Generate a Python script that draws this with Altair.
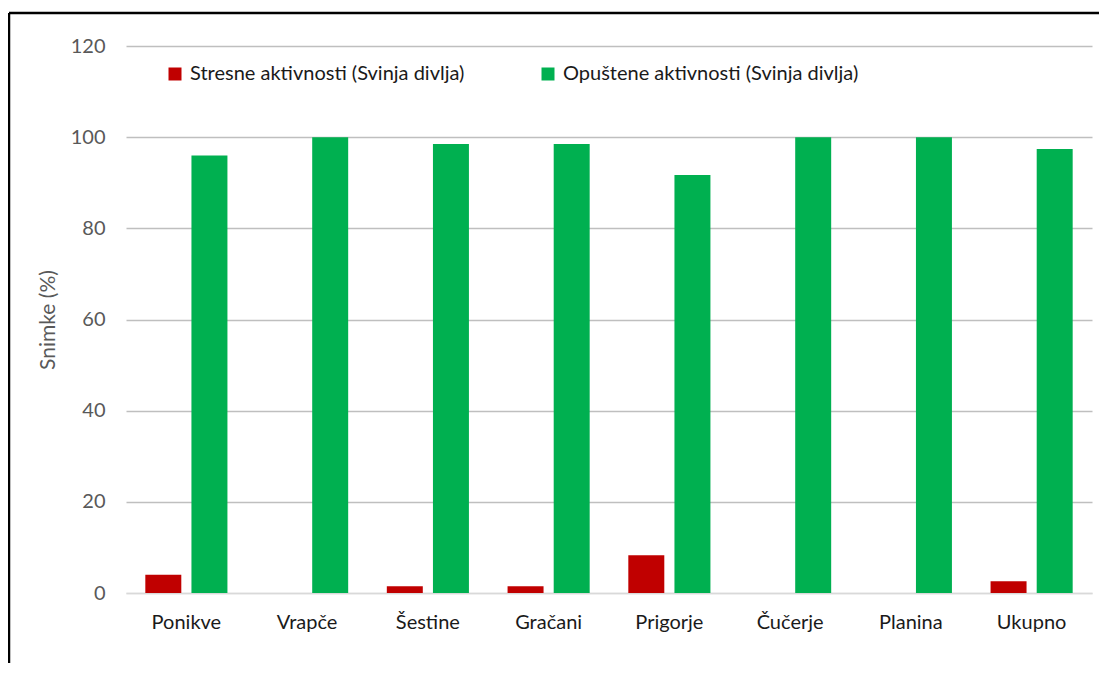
import pandas as pd
import altair as alt

# podaci procitani sa grafa
lokacije = ["Ponikve", "Vrapče", "Šestine", "Gračani", "Prigorje", "Čučerje", "Planina", "Ukupno"]
stresne = [4.0, 0, 1.5, 1.5, 8.3, 0, 0, 2.6]
opustene = [96.0, 100, 98.5, 98.5, 91.7, 100, 100, 97.4]
serije = ["Stresne aktivnosti (Svinja divlja)", "Opuštene aktivnosti (Svinja divlja)"]
boje = ["#C00000", "#00B050"]
y_oznake = [0, 20, 40, 60, 80, 100, 120]

df = pd.DataFrame({
    "lokacija": lokacije * 2,
    "serija": [serije[0]] * len(lokacije) + [serije[1]] * len(lokacije),
    "postotak": stresne + opustene,
})

font = "Lato"

bars = alt.Chart(df).mark_bar().encode(
    x=alt.X("lokacija:N", sort=lokacije, title=None,
            scale=alt.Scale(paddingInner=0.32, paddingOuter=0.16),
            axis=alt.Axis(labelAngle=0, labelFontSize=20, labelFont=font, labelColor="#1a1a1a",
                          labelPadding=19, ticks=False, domainColor="#d9d9d9", domainWidth=1.5)),
    xOffset=alt.XOffset("serija:N", sort=serije, scale=alt.Scale(paddingInner=0.22)),
    y=alt.Y("postotak:Q", title="Snimke (%)", scale=alt.Scale(domain=[0, 120]),
            axis=alt.Axis(values=y_oznake, labelFontSize=20, labelFont=font, labelColor="#595959",
                          labelPadding=21, ticks=False, domain=False,
                          gridColor={"condition": {"test": "datum.value === 0", "value": "#d9d9d9"},
                                     "value": "#bfbfbf"},
                          gridWidth=1.5,
                          titleFont=font, titleFontSize=21, titleFontWeight="normal",
                          titleColor="#595959", titlePadding=12)),
    color=alt.Color("serija:N", sort=serije,
                    scale=alt.Scale(domain=serije, range=boje),
                    legend=alt.Legend(title=None, orient="none", legendX=39, legendY=18,
                                      direction="horizontal", symbolType="square",
                                      symbolSize=169, symbolStrokeWidth=0,
                                      labelFontSize=20, labelFont=font, labelColor="#1a1a1a",
                                      labelLimit=500, labelOffset=5, columnPadding=73)),
)

# okvir grafa (lijevi i gornji rub)
okvir = pd.DataFrame({"k": [0]})
rub_lijevo = alt.Chart(okvir).mark_rule(color="black", strokeWidth=2.5).encode(
    x=alt.value(-117), y=alt.value(-33), y2=alt.value(700))
rub_gore = alt.Chart(okvir).mark_rule(color="black", strokeWidth=2.5).encode(
    x=alt.value(-117), x2=alt.value(1100), y=alt.value(-33))

chart = alt.layer(bars, rub_lijevo, rub_gore).properties(
    width=966, height=547,
    autosize="none",
    padding={"left": 118, "top": 38, "right": 7, "bottom": 70},
).configure_view(stroke=None)

chart.save("out.html", embed_options={"renderer": "svg", "actions": False})
